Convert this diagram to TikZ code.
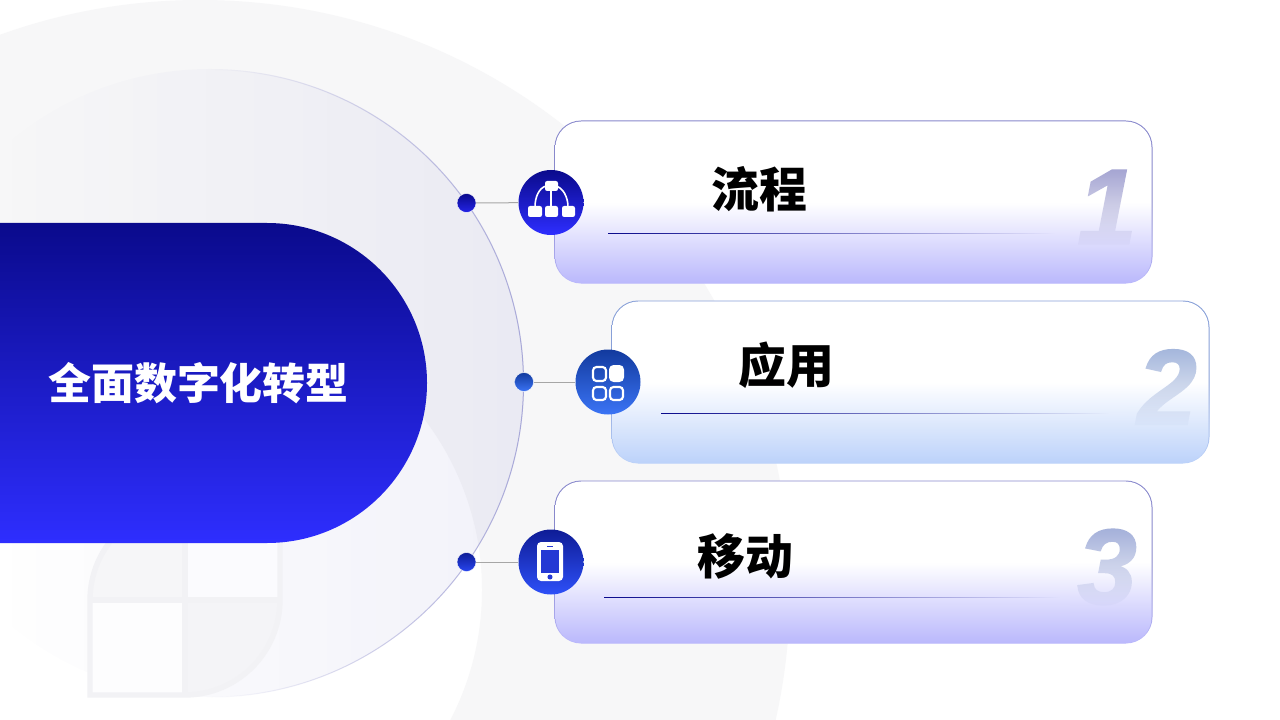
\documentclass[tikz,border=0pt]{standalone}
\usepackage{fontspec}
\usetikzlibrary{fadings,calc}
\newfontfamily\cjk{Noto Sans CJK SC}
\newfontfamily\cjkheavy{Noto Sans CJK SC Black}
\setmainfont{Liberation Sans}
\newfontfamily\digfont{Liberation Sans}[BoldItalicFeatures={FakeBold=1.6}]
\definecolor{ringgray}{HTML}{F7F7F8}
\definecolor{navy}{HTML}{0A0A8C}
\definecolor{vivid}{HTML}{2E2EFF}
\definecolor{wmline}{HTML}{F2F2F5}
\definecolor{disctint}{HTML}{6464BE}
\definecolor{discedge}{HTML}{A8A8D8}
\definecolor{wmbl}{HTML}{FDFDFE}
\definecolor{wmtr}{HTML}{FBFBFE}
\definecolor{wmtl}{HTML}{F6F6F8}
\definecolor{wmbr}{HTML}{F4F4F7}
\definecolor{edgepurple}{HTML}{8888CC}
\definecolor{edgeblue}{HTML}{88A0D8}
\definecolor{cardpurple}{HTML}{BAB8FC}
\definecolor{cardblue}{HTML}{BCD2FA}
\definecolor{digone}{HTML}{A4A4D2}
\definecolor{digtwo}{HTML}{A4B6DC}
\definecolor{digthree}{HTML}{A4B0DA}
\definecolor{dotlow}{HTML}{2424E8}
\definecolor{bluetop}{HTML}{123A9E}
\definecolor{bluelow}{HTML}{3B74F5}
\definecolor{phonetop}{HTML}{0E1C96}
\definecolor{phonelow}{HTML}{2E50F8}
\definecolor{phonedot}{HTML}{2846F0}
\definecolor{screen}{HTML}{2438D4}
\tikzfading[name=hfill, left color=transparent!100, right color=transparent!91.5]
\tikzfading[name=hstroke, left color=transparent!100, right color=transparent!0, middle color=transparent!100]
\tikzfading[name=faderight, left color=transparent!0, right color=transparent!100]
\tikzfading[name=digreveal, top color=transparent!100, bottom color=transparent!0]
\tikzset{
  x=0.75pt, y=-0.75pt,
  cardborder/.style 2 args={rectangle, rounded corners=20pt, minimum width=448.5pt, minimum height=122.25pt, inner sep=0pt,
     top color=#1, bottom color=#2, middle color=#1},
  cardfill/.style={rectangle, rounded corners=19.4pt, minimum width=447pt, minimum height=121.25pt, inner sep=0pt,
     top color=white, bottom color=#1, middle color=white},
  iconball/.style 2 args={circle, minimum size=48.75pt, inner sep=0pt, top color=#1, bottom color=#2},
  dotball/.style 2 args={circle, minimum size=14.25pt, inner sep=0pt, top color=#1, bottom color=#2, draw=white, line width=.3pt},
  link/.style={draw=black!35!white, line width=.75pt},
  title/.style={font=\cjkheavy\fontsize{35.9pt}{35.9pt}\selectfont, text=black, inner sep=0pt},
  digit/.style={font=\digfont\bfseries\itshape\fontsize{80pt}{80pt}\selectfont, text=#1, inner sep=0pt},
  wbox/.style={fill=white, rounded corners=1.6pt},
  obox/.style={draw=white, line width=1.6pt, rounded corners=2.6pt},
  wm/.style={draw=wmline, line width=4pt},
  veil/.style={top color=white, bottom color=#1, middle color=white, path fading=digreveal, fit fading=false},
}
\begin{document}
\begin{tikzpicture}
\clip (0,0) rectangle (1280,720);
\fill[white] (0,0) rectangle (1280,720);
% background ring and disc
\fill[ringgray, even odd rule] (200,590) circle[radius=442.5pt] (200,590) circle[radius=211.5pt];
\fill[disctint, path fading=hfill, fit fading=false, fading transform={xshift=196.5pt, yshift=-287.25pt, scale=7.86}] (210,383) circle[radius=235.5pt];
\draw[discedge, line width=.75pt, path fading=hstroke] (210,383) circle[radius=235.5pt];
% watermark
\fill[wmbl] (185,600) rectangle (90,695);
\fill[wmtr] (185,505) rectangle (280,600);
\fill[wmtl] (185,600) -- (90,600) arc[start angle=180,end angle=90,radius=71.25pt] -- cycle;
\fill[wmbr] (185,600) -- (280,600) arc[start angle=0,end angle=-90,radius=71.25pt] -- cycle;
\draw[wm] (90,695) -- (90,600) arc[start angle=180,end angle=90,radius=71.25pt] -- (280,505) -- (280,600) arc[start angle=0,end angle=-90,radius=71.25pt] -- cycle;
\draw[wm] (185,505) -- (185,695) (90,600) -- (280,600);
% banner
\shade[top color=navy, bottom color=vivid] (0,223) -- (267,223) arc[start angle=90,end angle=-90,radius=120pt] -- (0,543) -- cycle;
\node[font=\cjk\bfseries\fontsize{32.2pt}{32.2pt}\selectfont, text=white, inner sep=0pt] (banner) at (198.5,383) {全面数字化转型};
% cards
\node[cardborder={edgepurple}{cardpurple}] (card1b) at (853.5,202) {};
\node[cardfill=cardpurple] (card1) at (853.5,202.3) {};
\node[cardborder={edgeblue}{cardblue}] (card2b) at (910.5,382) {};
\node[cardfill=cardblue] (card2) at (910.5,382.3) {};
\node[cardborder={edgepurple}{cardpurple}] (card3b) at (853.5,562) {};
\node[cardfill=cardpurple] (card3) at (853.5,562.3) {};
% digits, dissolving downward into the card gradient
\node[digit=digone] (num1) at (1107,207) {1};
\begin{scope}
\clip (1070,122) rectangle (1150,257);
\shade[veil=cardpurple, fading transform={xshift=830.25pt, yshift=-156.75pt, yscale=1.23, xscale=2}] (1070,121.5) rectangle (1150,283);
\end{scope}
\node[digit=digtwo] (num2) at (1167,387) {2};
\begin{scope}
\clip (1127,302) rectangle (1207,437);
\shade[veil=cardblue, fading transform={xshift=875.25pt, yshift=-291.75pt, yscale=1.23, xscale=2}] (1127,301.5) rectangle (1207,463);
\end{scope}
\node[digit=digthree] (num3) at (1107,567) {3};
\begin{scope}
\clip (1070,482) rectangle (1150,617);
\shade[veil=cardpurple, fading transform={xshift=830.25pt, yshift=-426.75pt, yscale=1.23, xscale=2}] (1070,481.5) rectangle (1150,643);
\end{scope}
% rules
\fill[navy, path fading=faderight, fit fading=false, fading transform={xshift=623.6pt, yshift=-175.1pt, xscale=6.68, yscale=0.1}] (608,233) rectangle (1055,234);
\fill[navy, path fading=faderight, fit fading=false, fading transform={xshift=664.1pt, yshift=-310.1pt, xscale=6.7, yscale=0.1}] (661,413) rectangle (1110,414);
\fill[navy, path fading=faderight, fit fading=false, fading transform={xshift=624pt, yshift=-448.1pt, xscale=6.82, yscale=0.1}] (604,597) rectangle (1060,598);
% titles
\node[title] (t1) at (759,189) {流程};
\node[title] (t2) at (786,365) {应用};
\node[title] (t3) at (745.5,556) {移动};
% dots and icon balls
\node[dotball={navy}{dotlow}] (dot1) at (466.5,203) {};
\node[dotball={bluetop}{bluelow}] (dot2) at (524,382) {};
\node[dotball={phonetop}{phonedot}] (dot3) at (466.5,562) {};
\node[iconball={navy}{vivid}] (ball1) at (551,202.5) {};
\node[iconball={bluetop}{bluelow}] (ball2) at (608,382) {};
\node[iconball={phonetop}{phonelow}] (ball3) at (551,562) {};
\draw[link] (dot1) -- (ball1);
\draw[link] (dot2) -- (ball2);
\draw[link] (dot3) -- (ball3);
% icon 1
\draw[white, line width=1.2pt] (551,190) -- (551,207);
\draw[white, line width=1.2pt] (546,186) .. controls (539,188) and (535,197) .. (535,207);
\draw[white, line width=1.2pt] (556,186) .. controls (563,188) and (568,197) .. (568,207);
\fill[wbox] (545,181) rectangle (558,191);
\fill[wbox] (528,206) rectangle (542,217);
\fill[wbox] (545,206) rectangle (558,217);
\fill[wbox] (562,206) rectangle (575,217);
% icon 2
\draw[obox] (593,367) rectangle (606,381);
\fill[white, rounded corners=3.4pt] (609,365) rectangle (624,382);
\draw[obox] (593,387) rectangle (606,400);
\draw[obox] (610,387) rectangle (623,400);
% icon 3
\fill[white, rounded corners=3pt] (537,542) rectangle (563,581);
\fill[screen] (541,550) rectangle (559,573);
\fill[screen] (547,545.5) rectangle (553,546.5);
\fill[screen] (550,577) circle[radius=1.9pt];
\end{tikzpicture}
\end{document}
